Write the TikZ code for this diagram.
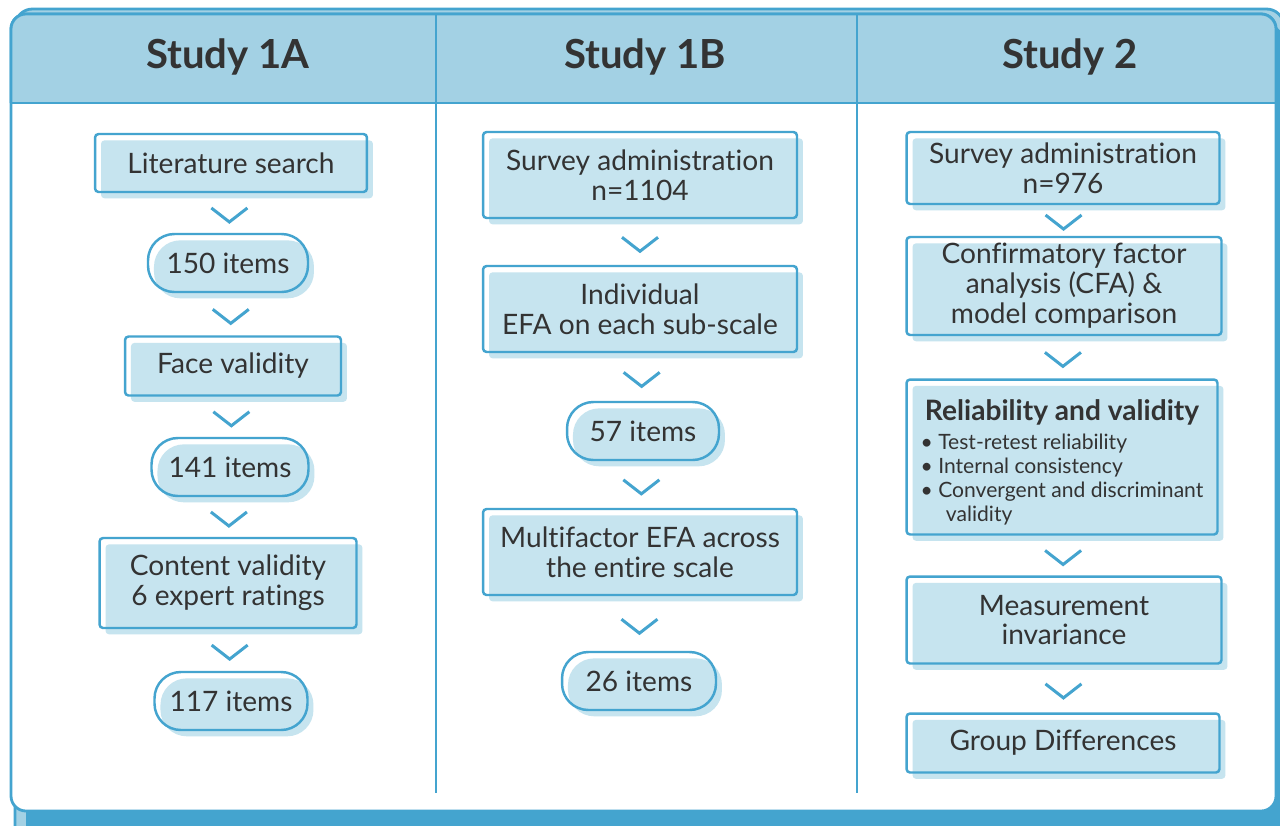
\documentclass[tikz,border=0pt]{standalone}
\usepackage{fontspec}
\setmainfont{Lato}[Ligatures=NoCommon]
\usepackage{tikz}
\usetikzlibrary{shadows}
\definecolor{lineblue}{HTML}{44A4CF}
\definecolor{headfill}{HTML}{A3D1E4}
\definecolor{boxfill}{HTML}{C6E4EF}
\definecolor{inkgray}{HTML}{333333}
\newcommand{\stepfont}{\fontsize{16}{17}\selectfont}
\newcommand{\headfont}{\fontsize{22.8}{26}\selectfont\bfseries}
\newcommand{\bulfont}{\fontsize{12}{13.7}\selectfont}

\begin{document}
\begin{tikzpicture}[x=0.02cm,y=-0.02cm]
  \tikzstyle{stepbox}=[draw=lineblue, line width=1.4pt, rounded corners=2pt,
    text=inkgray, font=\stepfont, align=center, inner sep=0pt,
    drop shadow={shadow xshift=3.4pt, shadow yshift=-3.6pt, fill=boxfill, opacity=1}]
  \tikzstyle{itembox}=[stepbox, rounded corners=15pt, minimum height=1.16cm]
  \tikzstyle{headtext}=[text=inkgray, font=\headfont]
  \tikzstyle{frameline}=[lineblue, line width=1.6pt]
  \tikzset{chev/.pic={\draw[lineblue, line width=1.7pt] (-18,-7) -- (0,7) -- (18,-7);}}
  \useasboundingbox (0,0) rectangle (1280,825);

  % frame with its shadow and the header band
  \draw[frameline, fill=headfill, rounded corners=0.35cm] (15,9) rectangle (1284,845);
  \fill[lineblue, rounded corners=0.35cm] (26,24) rectangle (1284,845);
  \draw[frameline, fill=white, rounded corners=0.3cm] (11,14) rectangle (1276,811);
  \fill[headfill] (11,103) [rounded corners=0.3cm] -- (11,14) -- (1276,14) [sharp corners] -- (1276,103) -- cycle;
  \draw[frameline, rounded corners=0.3cm] (11,103) -- (11,14) -- (1276,14) -- (1276,103);
  \draw[frameline] (11,103) -- (1276,103);
  \draw[frameline] (436,14) -- (436,793);
  \draw[frameline] (857,14) -- (857,793);

  \node[headtext] (h1a) at (228,57) {Study 1A};
  \node[headtext] (h1b) at (645,57) {Study 1B};
  \node[headtext] (h2) at (1070,57) {Study 2};

  % study 1A
  \node[stepbox, minimum width=5.44cm, minimum height=1.16cm] (lit) at (231,163) {Literature search};
  \node[itembox, minimum width=3.2cm] (i150) at (228,263) {150 items};
  \node[stepbox, minimum width=4.32cm, minimum height=1.18cm] (face) at (233,366) {Face validity};
  \node[itembox, minimum width=3.14cm] (i141) at (230,467) {141 items};
  \node[stepbox, minimum width=5.14cm, minimum height=1.8cm] (content) at (228,583) {Content validity\\6 expert ratings};
  \node[itembox, minimum width=3.06cm] (i117) at (231,701) {117 items};

  % study 1B
  \node[stepbox, minimum width=6.28cm, minimum height=1.72cm] (surv1) at (640,175) {Survey administration\\n=1104};
  \node[stepbox, minimum width=6.28cm, minimum height=1.72cm] (indiv) at (640,309) {Individual\\EFA on each sub-scale};
  \node[itembox, minimum width=3.04cm] (i57) at (643,431) {57 items};
  \node[stepbox, minimum width=6.28cm, minimum height=1.72cm] (multi) at (640,552) {Multifactor EFA across\\the entire scale};
  \node[itembox, minimum width=3.08cm] (i26) at (639,681) {26 items};

  % study 2
  \node[stepbox, minimum width=6.26cm, minimum height=1.44cm] (surv2) at (1063,168) {Survey administration\\n=976};
  \node[stepbox, minimum width=6.3cm, minimum height=1.96cm] (cfa) at (1064,286) {Confirmatory factor\\analysis (CFA) \&\\model comparison};
  \node[stepbox, minimum width=6.22cm, minimum height=3.1cm] (rel) at (1062,457) {%
    \begin{tabular}{@{}c@{}}
      \rule{0pt}{20pt}\bfseries Reliability and validity\\[2pt]
      \bulfont\begin{tabular}{@{}l@{}}
        \textbullet\ Test-retest reliability\\
        \textbullet\ Internal consistency\\
        \textbullet\ Convergent and discriminant\\
        \hspace{1.2em}validity
      \end{tabular}
    \end{tabular}};
  \node[stepbox, minimum width=6.3cm, minimum height=1.74cm] (meas) at (1064,620) {Measurement\\invariance};
  \node[stepbox, minimum width=6.26cm, minimum height=1.18cm] (group) at (1063,743) {Group Differences};

  \foreach \a/\b in {lit/i150, i150/face, face/i141, i141/content, content/i117,
      surv1/indiv, indiv/i57, i57/multi, multi/i26,
      surv2/cfa, cfa/rel, rel/meas, meas/group}
    \path (\a.south) -- (\b.north) pic[pos=0.55]{chev};
\end{tikzpicture}
\end{document}
